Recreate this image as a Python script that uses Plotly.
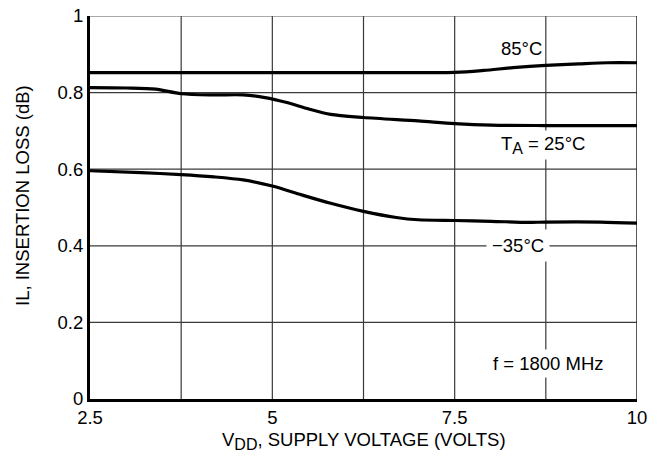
import plotly.graph_objects as go

# Data
vdd_85 = [2.5, 3.75, 5.0, 6.25, 7.5, 7.9, 8.3, 8.75, 9.2, 9.6, 10.0]
il_85 = [0.852, 0.852, 0.852, 0.852, 0.853, 0.858, 0.865, 0.871, 0.875, 0.878, 0.878]

vdd_25 = [2.5, 3.0, 3.4, 3.75, 4.2, 4.6, 4.9, 5.2, 5.5, 5.8, 6.25, 7.0, 7.5, 8.0, 8.75, 10.0]
il_25 = [0.813, 0.812, 0.809, 0.797, 0.794, 0.794, 0.787, 0.774, 0.757, 0.743, 0.735, 0.726, 0.719, 0.715, 0.714, 0.714]

vdd_m35 = [2.5, 3.2, 3.75, 4.2, 4.6, 5.0, 5.4, 5.8, 6.25, 6.7, 7.0, 7.5, 8.0, 8.5, 8.75, 9.5, 10.0]
il_m35 = [0.596, 0.591, 0.586, 0.580, 0.572, 0.556, 0.533, 0.511, 0.490, 0.474, 0.468, 0.466, 0.464, 0.461, 0.462, 0.462, 0.459]

x_ticks = [2.5, 5, 7.5, 10]
x_tick_labels = ["2.5", "5", "7.5", "10"]
y_ticks = [0, 0.2, 0.4, 0.6, 0.8, 1]
y_tick_labels = ["0", "0.2", "0.4", "0.6", "0.8", "1"]
x_grid = [3.75, 5, 6.25, 7.5, 8.75]
y_grid = [0.2, 0.4, 0.6, 0.8]

FONT = "Liberation Sans, Arial, sans-serif"
FS = 18.5
GRID = "#3a3a3a"
SUB = '<sub><span style="font-size:16px">{}</span></sub>'

fig = go.Figure()

for xs, ys in [(vdd_85, il_85), (vdd_25, il_25), (vdd_m35, il_m35)]:
    fig.add_trace(go.Scatter(x=xs, y=ys, mode="lines",
                             line=dict(color="black", width=3.2, shape="spline", smoothing=0.8),
                             showlegend=False, hoverinfo="skip"))

for gx in x_grid:
    fig.add_shape(type="line", x0=gx, x1=gx, y0=0, y1=1, xref="x", yref="y",
                  line=dict(color=GRID, width=1.2), layer="below")
for gy in y_grid:
    fig.add_shape(type="line", x0=2.5, x1=10, y0=gy, y1=gy, xref="x", yref="y",
                  line=dict(color=GRID, width=1.2), layer="below")
fig.add_shape(type="line", x0=2.5, x1=10, y0=1, y1=1, xref="x", yref="y",
              line=dict(color="#555555", width=1.2), layer="below")
fig.add_shape(type="line", x0=10, x1=10, y0=0, y1=1, xref="x", yref="y",
              line=dict(color="#222222", width=1.5), layer="below")

annots = [
    (8.41, 0.916, "85°C", 2),
    (8.71, 0.662, "T" + SUB.format("A") + " = 25°C", 2),
    (8.37, 0.402, "\u221235°C", 5),
    (8.78, 0.094, "f = 1800 MHz", 3),
]
for ax_, ay_, txt, pad in annots:
    fig.add_annotation(x=ax_, y=ay_, xref="x", yref="y", text=txt, showarrow=False,
                       font=dict(family=FONT, size=FS, color="black"),
                       bgcolor="white", borderpad=pad)

# axis titles
fig.add_annotation(x=(22 - 90) / 547, y=(399 - 196) / 383, xref="paper", yref="paper",
                   text="IL, INSERTION LOSS (dB)", textangle=-90, showarrow=False,
                   xanchor="center", yanchor="middle",
                   font=dict(family=FONT, size=FS, color="black"))
fig.add_annotation(x=(364 - 90) / 547, y=-(441 - 399) / 383, xref="paper", yref="paper",
                   text="V" + SUB.format("DD") + ", SUPPLY VOLTAGE (VOLTS)", showarrow=False,
                   xanchor="center", yanchor="middle",
                   font=dict(family=FONT, size=FS, color="black"))

fig.update_layout(
    width=659, height=463,
    margin=dict(l=90, r=22, t=16, b=64, autoexpand=False),
    paper_bgcolor="white", plot_bgcolor="white",
    font=dict(family=FONT, size=FS, color="black"),
    xaxis=dict(range=[2.5, 10], tickvals=x_ticks, ticktext=x_tick_labels,
               showgrid=False, zeroline=False, showline=True, linecolor="black",
               linewidth=3, ticks="", ticklen=0, automargin=False,
               tickfont=dict(family=FONT, size=FS)),
    yaxis=dict(range=[0, 1], tickvals=y_ticks, ticktext=y_tick_labels,
               showgrid=False, zeroline=False, showline=True, linecolor="black",
               linewidth=3, ticks="", ticklen=0, automargin=False,
               tickfont=dict(family=FONT, size=FS)),
)

fig.write_html("out.html")
